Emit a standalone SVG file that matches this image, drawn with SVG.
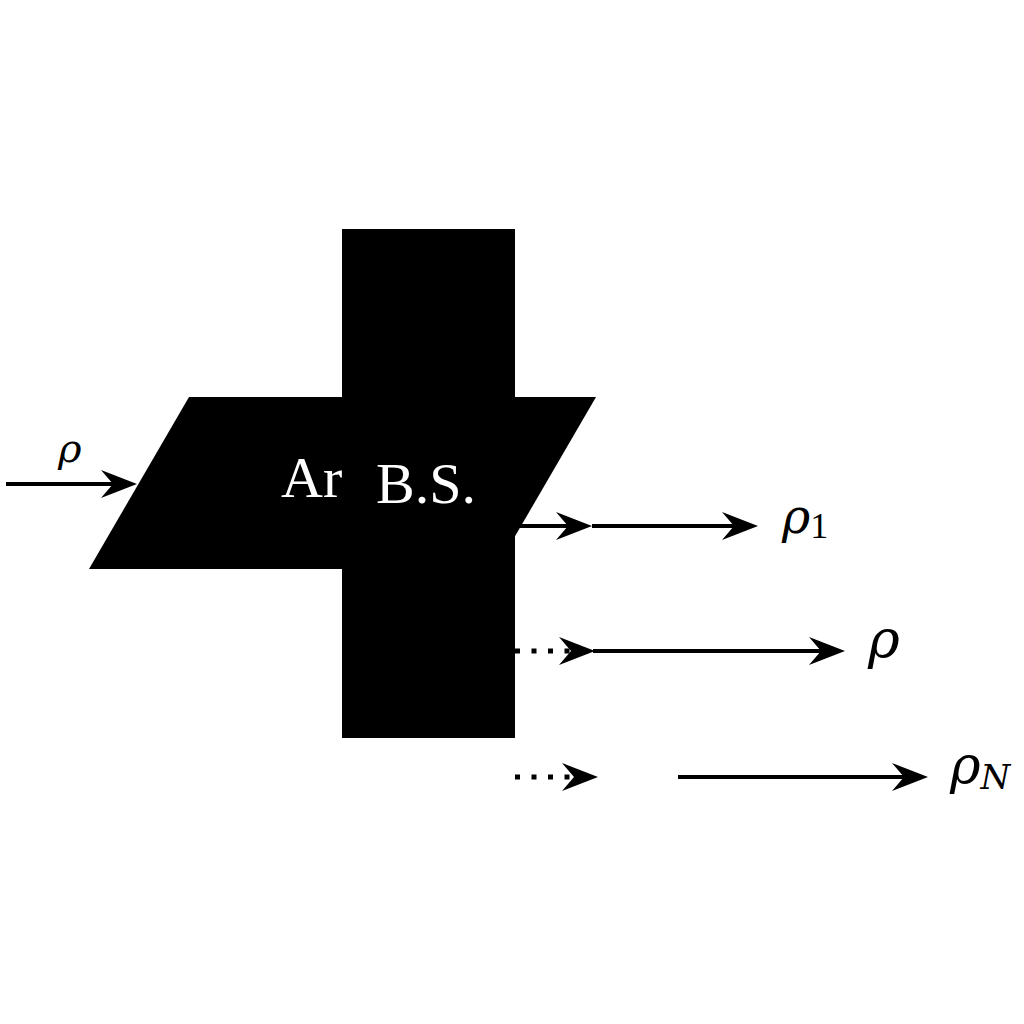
<svg xmlns="http://www.w3.org/2000/svg" width="1024" height="1024" viewBox="0 0 1024 1024">
<style>
.shape{fill:#000;stroke:none}
.wt{fill:#fff;font-family:"Liberation Serif",serif;font-size:58px}
.lbl{fill:#000;font-family:"DejaVu Serif",serif;font-style:italic}
.sub{font-family:"Liberation Serif",serif;font-style:normal}
.ln{stroke:#000;stroke-width:4;fill:none}
.dot{stroke:#000;stroke-width:5;fill:none;stroke-dasharray:5 11.5}
</style>
<defs>
<marker id="ah" markerUnits="userSpaceOnUse" viewBox="-40 -16 42 32" markerWidth="42" markerHeight="32" refX="-20" refY="0" orient="auto" overflow="visible">
<path d="M0,0 L-36,-14 L-24,0 L-36,14 Z" fill="#000"/>
</marker>
</defs>
<rect width="1024" height="1024" fill="#fff"/>
<g id="node-parallelogram">
<polygon class="shape" points="189,397 596,397 496,569 89,569"/>
<text class="wt" x="281" y="497">Ar</text>
</g>
<g id="node-bs">
<rect class="shape" x="342" y="229" width="173" height="509"/>
<text class="wt" x="376" y="503">B.S.</text>
</g>
<g id="connectors">
<line class="ln" x1="6" y1="484" x2="117" y2="484" marker-end="url(#ah)"/>
<line class="ln" x1="515" y1="526" x2="572" y2="526" marker-end="url(#ah)"/>
<line class="ln" x1="592" y1="526" x2="738" y2="526" marker-end="url(#ah)"/>
<line class="dot" x1="515" y1="651" x2="575" y2="651" marker-end="url(#ah)"/>
<line class="ln" x1="593" y1="651" x2="825" y2="651" marker-end="url(#ah)"/>
<line class="dot" x1="515" y1="777" x2="578" y2="777" marker-end="url(#ah)"/>
<line class="ln" x1="678" y1="777" x2="908" y2="777" marker-end="url(#ah)"/>
</g>
<g id="labels">
<text class="lbl" x="58" y="462" font-size="40">ρ</text>
<text class="lbl" x="782" y="533" font-size="48">ρ<tspan class="sub" font-size="36" dy="5">1</tspan></text>
<text class="lbl" x="868" y="658" font-size="54">ρ</text>
<text class="lbl" x="950" y="783" font-size="52">ρ<tspan font-size="34" dy="6">N</tspan></text>
</g>
</svg>
